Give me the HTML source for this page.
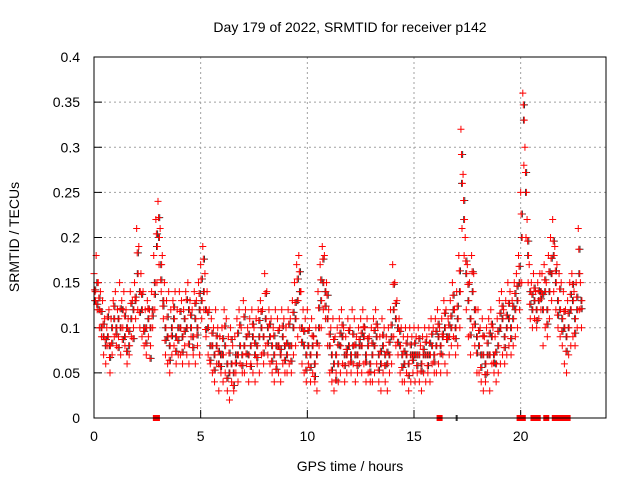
<!DOCTYPE html>
<html><head><meta charset="utf-8"><style>
body{margin:0;background:#fff}
svg{display:block;font-family:"Liberation Sans",sans-serif}
</style></head><body>
<svg id="c" width="640" height="480">
<text x="350" y="32" font-size="14" text-anchor="middle">Day 179 of 2022, SRMTID for receiver p142</text>
<text x="350" y="471" font-size="14" text-anchor="middle">GPS time / hours</text>
<text transform="translate(19,237) rotate(-90)" font-size="14" text-anchor="middle">SRMTID / TECUs</text>
<g id="grid"></g><g id="pts"></g>
<rect x="94" y="57" width="512" height="361" fill="none" stroke="#000"/>
</svg>
<script>
const xTicks=[0,5,10,15,20];
const yTicks=[0,0.05,0.1,0.15,0.2,0.25,0.3,0.35,0.4];
const yTickLabels=["0","0.05","0.1","0.15","0.2","0.25","0.3","0.35","0.4"];
const upper=[.16,.18,.15,.14,.13,.11,.10,.12,.11,.13,.14,.12,.15,.13,.14,.12,.11,.14,.13,.15,.21,.19,.16,.14,.12,.13,.12,.14,.18,.22,.24,.21,.18,.15,.13,.14,.12,.13,.14,.12,.14,.13,.12,.14,.15,.13,.12,.14,.13,.15,.17,.19,.16,.14,.12,.11,.10,.12,.10,.09,.10,.12,.11,.09,.10,.08,.09,.11,.12,.10,.13,.12,.10,.11,.12,.10,.11,.12,.13,.12,.16,.14,.12,.11,.10,.12,.11,.10,.12,.11,.10,.12,.11,.13,.15,.17,.18,.14,.12,.11,.12,.10,.11,.09,.10,.14,.17,.19,.18,.15,.12,.10,.11,.09,.10,.11,.12,.10,.09,.11,.10,.12,.11,.09,.10,.11,.12,.10,.11,.09,.10,.11,.12,.10,.09,.11,.10,.09,.10,.12,.17,.15,.13,.11,.10,.09,.10,.09,.10,.09,.10,.09,.10,.08,.09,.10,.09,.10,.11,.10,.11,.12,.10,.11,.13,.12,.11,.13,.15,.12,.14,.18,.32,.27,.20,.17,.15,.18,.16,.12,.12,.10,.11,.09,.10,.11,.12,.10,.09,.11,.13,.14,.12,.13,.15,.14,.13,.15,.16,.18,.25,.36,.30,.22,.17,.15,.16,.14,.15,.16,.16,.17,.15,.18,.20,.22,.19,.17,.16,.15,.14,.12,.13,.15,.16,.14,.15,.21,.15];
const lower=[.14,.12,.10,.09,.07,.06,.08,.05,.07,.09,.08,.09,.07,.10,.08,.06,.07,.09,.10,.11,.12,.10,.09,.08,.07,.09,.08,.10,.12,.15,.17,.14,.11,.07,.06,.05,.07,.08,.06,.07,.07,.06,.08,.07,.06,.09,.07,.06,.08,.07,.11,.12,.09,.07,.06,.05,.04,.06,.03,.05,.04,.05,.03,.02,.04,.03,.05,.04,.06,.05,.05,.06,.04,.06,.05,.04,.06,.05,.07,.06,.08,.07,.06,.05,.04,.06,.05,.04,.06,.05,.05,.06,.05,.07,.08,.09,.10,.06,.05,.04,.06,.04,.05,.04,.03,.08,.10,.12,.11,.08,.05,.04,.03,.05,.04,.05,.06,.04,.05,.06,.05,.06,.04,.05,.06,.05,.06,.04,.05,.04,.04,.05,.06,.04,.03,.05,.04,.03,.05,.06,.09,.08,.07,.05,.04,.04,.05,.03,.04,.05,.04,.05,.04,.03,.05,.04,.05,.04,.06,.05,.05,.06,.05,.07,.06,.05,.07,.08,.09,.07,.08,.10,.21,.18,.12,.09,.07,.10,.08,.05,.05,.04,.03,.04,.05,.03,.06,.05,.04,.05,.06,.07,.06,.07,.08,.07,.08,.09,.10,.12,.15,.28,.20,.15,.11,.10,.11,.10,.11,.12,.08,.10,.09,.11,.13,.14,.12,.10,.09,.08,.06,.05,.07,.08,.09,.08,.10,.12,.10];
const middle=[.13,.15,.12,.10,.09,.08,.09,.08,.10,.11,.10,.11,.10,.12,.09,.10,.08,.11,.12,.13,.16,.14,.12,.10,.10,.11,.10,.12,.15,.19,.20,.17,.13,.10,.09,.08,.10,.11,.09,.10,.10,.09,.11,.10,.12,.10,.09,.11,.10,.12,.13,.14,.12,.10,.08,.08,.07,.08,.06,.07,.07,.08,.06,.05,.06,.05,.07,.07,.08,.07,.08,.09,.07,.08,.09,.07,.08,.09,.10,.09,.11,.10,.09,.08,.07,.08,.08,.07,.09,.08,.07,.08,.08,.10,.11,.13,.14,.10,.08,.07,.08,.07,.08,.06,.07,.10,.13,.15,.14,.11,.08,.07,.06,.07,.06,.08,.09,.07,.07,.08,.07,.08,.07,.07,.08,.08,.09,.07,.08,.06,.07,.08,.09,.07,.06,.08,.07,.06,.07,.09,.12,.11,.10,.08,.07,.06,.07,.06,.07,.07,.07,.07,.07,.06,.07,.07,.07,.07,.08,.07,.08,.09,.08,.09,.10,.09,.09,.10,.12,.10,.11,.14,.26,.22,.16,.13,.11,.14,.12,.09,.08,.07,.07,.06,.07,.07,.09,.07,.06,.08,.10,.11,.09,.10,.11,.10,.11,.12,.13,.15,.20,.33,.25,.18,.14,.12,.13,.12,.13,.14,.12,.14,.12,.14,.16,.18,.15,.13,.12,.11,.10,.09,.10,.12,.13,.11,.12,.16,.13];
const extra=[.142,.126,.133,.118,.104,.087,.112,.067,.083,.124,.093,.078,.121,.087,.113,.074,.096,.127,.088,.134,.183,.117,.137,.096,.083,.121,.066,.113,.137,.204,.222,.153,.124,.086,.112,.064,.091,.123,.074,.086,.118,.073,.096,.131,.082,.114,.078,.127,.092,.138,.154,.176,.098,.117,.064,.094,.053,.091,.074,.057,.088,.102,.044,.072,.087,.036,.061,.094,.103,.058,.112,.071,.093,.057,.104,.083,.067,.108,.118,.072,.138,.083,.104,.063,.091,.054,.097,.076,.102,.064,.083,.104,.063,.117,.128,.154,.162,.084,.096,.053,.097,.056,.091,.046,.083,.122,.153,.176,.124,.136,.093,.053,.087,.042,.081,.094,.103,.058,.076,.097,.062,.093,.081,.058,.087,.094,.101,.062,.088,.051,.083,.097,.104,.053,.074,.092,.058,.073,.084,.103,.148,.127,.084,.096,.056,.074,.083,.047,.081,.064,.083,.058,.088,.052,.076,.084,.058,.083,.093,.062,.096,.104,.071,.093,.116,.087,.103,.113,.136,.088,.124,.163,.292,.241,.174,.148,.092,.162,.104,.072,.097,.056,.091,.048,.083,.094,.104,.061,.073,.096,.116,.124,.078,.114,.127,.088,.124,.138,.146,.168,.226,.347,.272,.196,.126,.137,.144,.108,.141,.132,.137,.153,.104,.162,.177,.196,.163,.114,.143,.096,.118,.074,.116,.137,.148,.094,.134,.187,.121];
const zeroRedTimes=[2.9,2.95,16.2,19.95,20.0,20.1,20.6,20.7,20.8,21.2,21.6,21.7,21.8,21.9,22.0,22.1,22.2];
const zeroBlackTimes=[17.0,20.05];
const stepHours=0.1;
const NS="http://www.w3.org/2000/svg";
const X=t=>94+t*(512/24), Y=v=>418-v*(361/0.4);
const grid=document.getElementById('grid'), pts=document.getElementById('pts');
function mk(tag,attrs,parent){const e=document.createElementNS(NS,tag);for(const k in attrs)e.setAttribute(k,attrs[k]);parent.appendChild(e);return e;}
xTicks.forEach(t=>{
  const g=mk('line',{x1:X(t),x2:X(t),y1:57,y2:418,stroke:'#a0a0a0','stroke-dasharray':'2,3'},grid);
  
  
  mk('line',{x1:X(t),x2:X(t),y1:418,y2:410,stroke:'#000'},grid);
  const l=mk('text',{x:X(t),y:441,'font-size':14,'text-anchor':'middle'},grid);l.textContent=t;
  
  
});
yTicks.forEach((v,i)=>{
  const g=mk('line',{x1:94,x2:606,y1:Y(v),y2:Y(v),stroke:'#a0a0a0','stroke-dasharray':'2,3'},grid);
  
  
  mk('line',{x1:94,x2:102,y1:Y(v),y2:Y(v),stroke:'#000'},grid);
  const l=mk('text',{x:80,y:Y(v)+5,'font-size':14,'text-anchor':'end'},grid);l.textContent=yTickLabels[i];
  
  
});
function plus(t,v,col,name){
  const x=X(t),y=Y(v);
  const p=mk('path',{d:`M${x-3.5},${y}h7M${x},${y-3.5}v7`,stroke:col,'stroke-width':1,fill:'none'},pts);
  
  
}
middle.forEach((v,i)=>plus(i*stepHours+0.03,v,'#333','black-point'));
extra.forEach((v,i)=>plus(i*stepHours+0.08,v,'#333','black-point'));
upper.forEach((v,i)=>plus(i*stepHours,v,'#f00','red-point'));
lower.forEach((v,i)=>plus(i*stepHours+0.05,v,'#f00','red-point'));
extra.forEach((v,i)=>plus(i*stepHours+0.025,v,'#f00','red-point'));
middle.forEach((v,i)=>plus(i*stepHours+0.07,v,'#f00','red-point'));
zeroBlackTimes.forEach(t=>{const r=mk('rect',{x:X(t)-1,y:415,width:2,height:6,fill:'#333'},pts);
  
  });
zeroRedTimes.forEach(t=>{const r=mk('rect',{x:X(t)-3,y:415,width:6,height:6,fill:'#f00'},pts);
  
  });
</script>
</body></html>
